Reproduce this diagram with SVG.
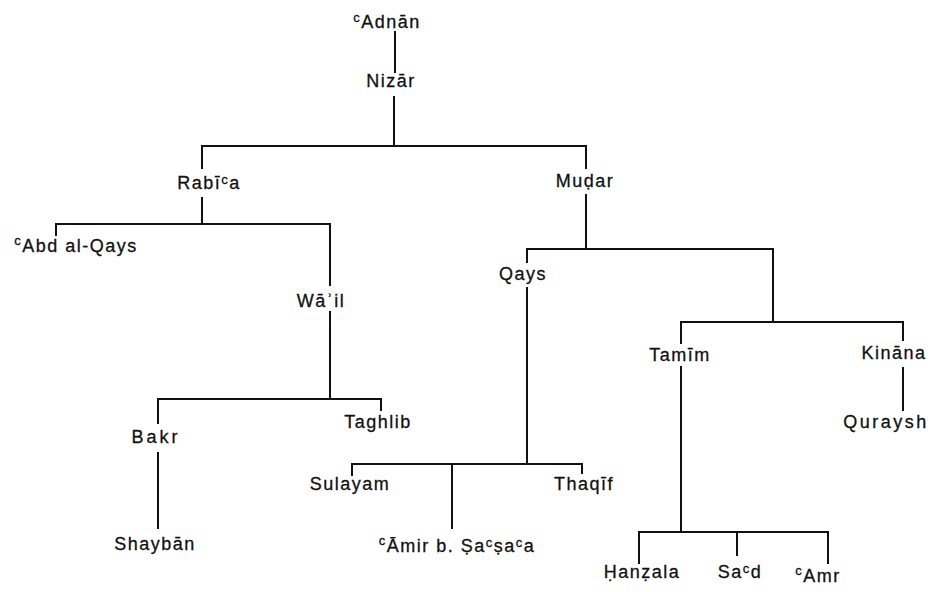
<svg xmlns="http://www.w3.org/2000/svg" width="937" height="592" viewBox="0 0 937 592">
<style>
.bg{fill:#ffffff}
.ln{stroke:#111;stroke-width:2;fill:none;stroke-linecap:square}
.t{font-family:"Liberation Sans","DejaVu Sans",sans-serif;font-size:18px;fill:#111;stroke:#111;stroke-width:0.3px;text-anchor:middle;letter-spacing:1.5px}
.sup{font-size:13px}
</style>
<rect class="bg" x="0" y="0" width="937" height="592"/>
<g id="connectors">
<path class="ln" d="M395 32V72"/>
<path class="ln" d="M394 97V146"/>
<path class="ln" d="M202 168V146H586V168"/>
<path class="ln" d="M202 198V224"/>
<path class="ln" d="M56 235V224H330V285"/>
<path class="ln" d="M330 312V399"/>
<path class="ln" d="M158 423V399H381V410"/>
<path class="ln" d="M158 453V528"/>
<path class="ln" d="M586 195V249"/>
<path class="ln" d="M527 262V249H773V322"/>
<path class="ln" d="M527 288V464"/>
<path class="ln" d="M352 475V464H582V473"/>
<path class="ln" d="M452 464V528"/>
<path class="ln" d="M681 343V322H903V340"/>
<path class="ln" d="M681 367V532"/>
<path class="ln" d="M903 368V410"/>
<path class="ln" d="M639 563V532H828V563"/>
<path class="ln" d="M737 532V555"/>
</g>
<g id="adnan"><text class="t" x="387" y="28"><tspan class="sup" dy="-6">c</tspan><tspan dy="6">Adnān</tspan></text></g>
<g id="nizar"><text class="t" x="391" y="87">Nizār</text></g>
<g id="rabia"><text class="t" x="209" y="189">Rabī<tspan class="sup" dy="-5">c</tspan><tspan dy="5">a</tspan></text></g>
<g id="mudar"><text class="t" x="585" y="187">Muḍar</text></g>
<g id="abd-al-qays"><text class="t" x="76" y="252"><tspan class="sup" dy="-7">c</tspan><tspan dy="7">Abd al-Qays</tspan></text></g>
<g id="wail"><text class="t" x="321" y="307">Wāʾil</text></g>
<g id="qays"><text class="t" x="523" y="280">Qays</text></g>
<g id="bakr"><text class="t" x="156" y="443" style="letter-spacing:3px">Bakr</text></g>
<g id="taghlib"><text class="t" x="378" y="428">Taghlib</text></g>
<g id="shayban"><text class="t" x="155" y="550">Shaybān</text></g>
<g id="sulayam"><text class="t" x="350" y="490">Sulayam</text></g>
<g id="amir"><text class="t" x="457" y="552"><tspan class="sup" dy="-7">c</tspan><tspan dy="7">Āmir b. Ṣa</tspan><tspan class="sup" dy="-5">c</tspan><tspan dy="5">ṣa</tspan><tspan class="sup" dy="-5">c</tspan><tspan dy="5">a</tspan></text></g>
<g id="thaqif"><text class="t" x="584" y="490">Thaqīf</text></g>
<g id="tamim"><text class="t" x="680" y="361">Tamīm</text></g>
<g id="kinana"><text class="t" x="894" y="359">Kināna</text></g>
<g id="quraysh"><text class="t" x="886" y="428" style="letter-spacing:2.5px">Quraysh</text></g>
<g id="hanzala"><text class="t" x="642" y="578">Ḥanẓala</text></g>
<g id="sad"><text class="t" x="740" y="578">Sa<tspan class="sup" dy="-5">c</tspan><tspan dy="5">d</tspan></text></g>
<g id="amr"><text class="t" x="818" y="582"><tspan class="sup" dy="-7">c</tspan><tspan dy="7">Amr</tspan></text></g>
</svg>
